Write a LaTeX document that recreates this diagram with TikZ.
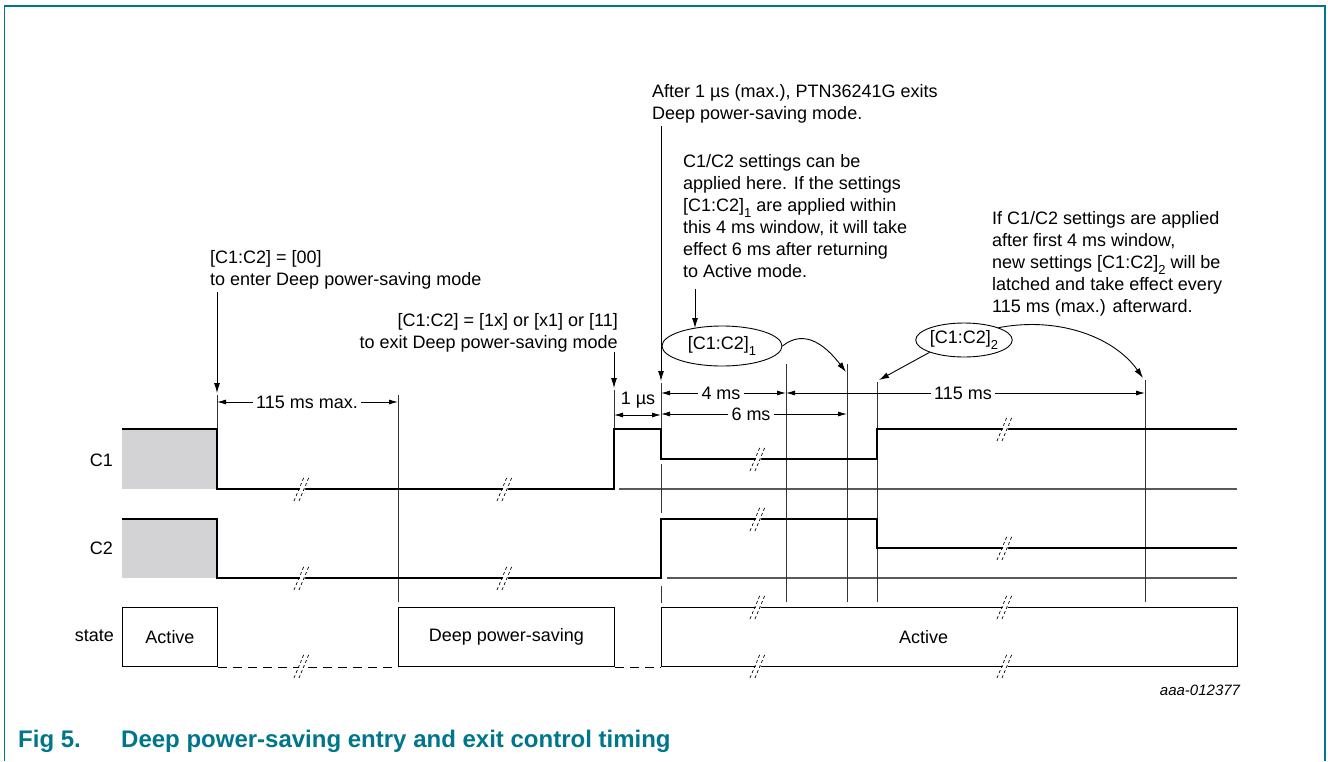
\documentclass[tikz,border=0pt]{standalone}
\usepackage{fontspec}
\setmainfont{Liberation Sans}
\usetikzlibrary{arrows.meta,shapes.geometric}
\definecolor{figteal}{RGB}{0,118,140}
\definecolor{sigfill}{RGB}{211,211,213}
\definecolor{refgray}{RGB}{90,90,90}
\newcommand\lowsub[1]{\raisebox{-0.3em}{\fontsize{13}{13}\selectfont #1}}
\begin{document}
\begin{tikzpicture}[x=1pt,y=-1pt,
  txt/.style={font=\fontsize{18}{22}\selectfont, inner sep=0pt},
  dimtxt/.style={font=\fontsize{18}{22}\selectfont, inner xsep=3pt, inner ysep=0pt},
  arr/.style={-{Latex[length=10pt,width=6pt]}, line width=0.9pt},
  dim/.style={-{Latex[length=9pt,width=5pt]}, line width=0.9pt},
  sig/.style={line width=2.6pt, line join=miter},
  ref/.style={line width=1.1pt, draw=refgray},
  vline/.style={line width=1pt, draw=black!80},
  sbox/.style={draw, line width=1pt},
  brkline/.style={line width=0.7pt, dash pattern=on 3pt off 2.5pt},
  brk/.pic={
    \fill[white] (-7,11) -- (3,-11) -- (8,-11) -- (-2,11) -- cycle;
    \draw[brkline] (-8,12) -- (2,-12);
    \draw[brkline] (-3,12) -- (7,-12);
  }
]
\useasboundingbox (0,0) rectangle (1328,761);
% frame
\draw[figteal, line width=1.5pt] (4.5,761) -- (4.5,6) -- (1325,6) -- (1325,761);

% coordinates
\coordinate (t217) at (217,395);
\coordinate (t398) at (398,395);
\coordinate (t614) at (614,390);
\coordinate (t661) at (661,383);
\coordinate (t786) at (786,364);
\coordinate (t847) at (847,364);
\coordinate (t877) at (877,382);
\coordinate (t1145) at (1145,380);

% gray fills
\fill[sigfill] (122,429) rectangle (217,489);
\fill[sigfill] (122,519) rectangle (217,578);

% reference lines
\draw[ref] (619,489) -- (1237,489);
\draw[ref] (667,578) -- (1237,578);

% vertical lines
\draw[vline] (t217) -- (217,429);
\draw[vline] (t398) -- (398,602);
\draw[vline] (t614) -- (614,429);
\draw[vline] (t661) -- (661,429);
\draw[vline] (661,464) -- (661,513);
\draw[vline] (661,586) -- (661,603);
\draw[vline] (t786) -- (786,602);
\draw[vline] (t847) -- (847,602);
\draw[vline] (t877) -- (877,602);
\draw[vline] (t1145) -- (1145,602);

% signals
\draw[sig] (122,429) -- (217,429) -- (217,489) -- (614,489) -- (614,429) -- (661,429) -- (661,459) -- (877,459) -- (877,429) -- (1237,429);
\draw[sig] (122,519) -- (217,519) -- (217,578) -- (661,578) -- (661,519) -- (877,519) -- (877,548) -- (1237,548);

% state row
\node[sbox, minimum width=95pt, minimum height=59pt, anchor=north west, inner sep=0pt, font=\fontsize{18}{22}\selectfont] (act1) at (122,607) {Active};
\node[sbox, minimum width=216pt, minimum height=59pt, anchor=north west, inner sep=0pt, font=\fontsize{18}{22}\selectfont] (deep) at (398,607) {Deep power-saving};
\node[sbox, minimum width=576pt, minimum height=59pt, anchor=north west, inner sep=0pt, font=\fontsize{18}{22}\selectfont] (act2) at (661,607) {Active\hspace*{52pt}};
\draw[line width=1pt, dash pattern=on 9pt off 6pt] (act1.south east) -- (deep.south west);
\draw[line width=1pt, dash pattern=on 9pt off 6pt] (deep.south east) -- (act2.south west);

% break marks
\foreach \p in {(302,489),(505,489),(758,459),(1005,429),(302,578),(505,578),(758,519),(1005,548),(302,666),(758,607),(758,666),(1005,607),(1005,666)}
  \path \p pic {brk};

% row labels
\node[txt, anchor=east] (lc1) at (113,460) {C1};
\node[txt, anchor=east] (lc2) at (113,548) {C2};
\node[txt, anchor=east] (lst) at (114,636) {state};

% dimension lines
\node[dimtxt] (d115) at (307,402) {115 ms max.};
\draw[dim] (d115.west) -- (217,402);
\draw[dim] (d115.east) -- (398,402);

\node[txt] (d1us) at (638,400) {1 µs};
\coordinate (a614) at (614,415);
\coordinate (a661) at (661,415);
\coordinate (amid) at (637.5,415);
\draw[dim] (amid) -- (a614);
\draw[dim] (amid) -- (a661);

\node[dimtxt] (d4) at (721,393) {4 ms};
\draw[dim] (d4.west) -- (661,393);
\draw[dim] (d4.east) -- (786,393);

\node[dimtxt] (d6) at (751,414) {6 ms};
\draw[dim] (d6.west) -- (661,414);
\draw[dim] (d6.east) -- (847,414);

\node[dimtxt] (d115b) at (963,393) {115 ms};
\draw[dim] (d115b.west) -- (786,393);
\draw[dim] (d115b.east) -- (1145,393);

% annotation texts
\node[txt, align=left, anchor=north west] (n1) at (210,250.5) {[C1:C2] = [00]\\to enter Deep power-saving mode};
\node[txt, align=right, anchor=north east] (n2) at (618,313.5) {[C1:C2] = [1x] or [x1] or [11]\\to exit Deep power-saving mode};
\node[txt, align=left, anchor=north west] (n3) at (652,84.5) {After 1 µs (max.), PTN36241G exits\\Deep power-saving mode.};
\node[txt, align=left, anchor=north west] (n4) at (683,154.5) {C1/C2 settings can be\\applied here. If the settings\\{}[C1:C2]\lowsub{1} are applied within\\this 4 ms window, it will take\\effect 6 ms after returning\\to Active mode.};
\node[txt, align=left, anchor=north west] (n5) at (992,211.5) {If C1/C2 settings are applied\\after first 4 ms window,\\new settings [C1:C2]\lowsub{2} will be\\latched and take effect every\\115 ms (max.) afterward.};

% arrows from texts
\draw[arr] (217,292) -- (217,393);
\draw[arr] (614,352) -- (614,388);
\draw[arr] (661,126) -- (661,381);

% ellipses
\node[draw, ellipse, line width=0.9pt, minimum width=120pt, minimum height=40pt, inner sep=0pt, font=\fontsize{18}{22}\selectfont] (e1) at (722,346) {[C1:C2]\lowsub{1}};
\node[draw, ellipse, line width=0.9pt, minimum width=84pt, minimum height=34pt, inner sep=0pt, font=\fontsize{18}{22}\selectfont] (e2) at (964,340) {[C1:C2]\lowsub{2}};
\coordinate (e1top) at (695,328);
\draw[arr] (695,289) -- (e1top);
\draw[arr] (e1.east) .. controls (805,328) and (826,346) .. (846,372);
\coordinate (e2tip) at (879,380);
\draw[arr] (e2.south west) -- (e2tip);
\coordinate (e2tip2) at (1143,378);
\draw[arr] (e2.north east) .. controls (1060,316) and (1115,338) .. (e2tip2);

% id
\node[font=\fontsize{15}{15}\selectfont\itshape, inner sep=0pt] (id) at (1200,690) {aaa-012377};

% caption
\node[font=\fontsize{24}{28}\selectfont\bfseries, text=figteal, anchor=base west, inner sep=0pt] (cap1) at (18,747) {Fig 5.};
\node[font=\fontsize{24}{28}\selectfont\bfseries, text=figteal, anchor=base west, inner sep=0pt] (cap2) at (121,747) {Deep power-saving entry and exit control timing};
\end{tikzpicture}
\end{document}
